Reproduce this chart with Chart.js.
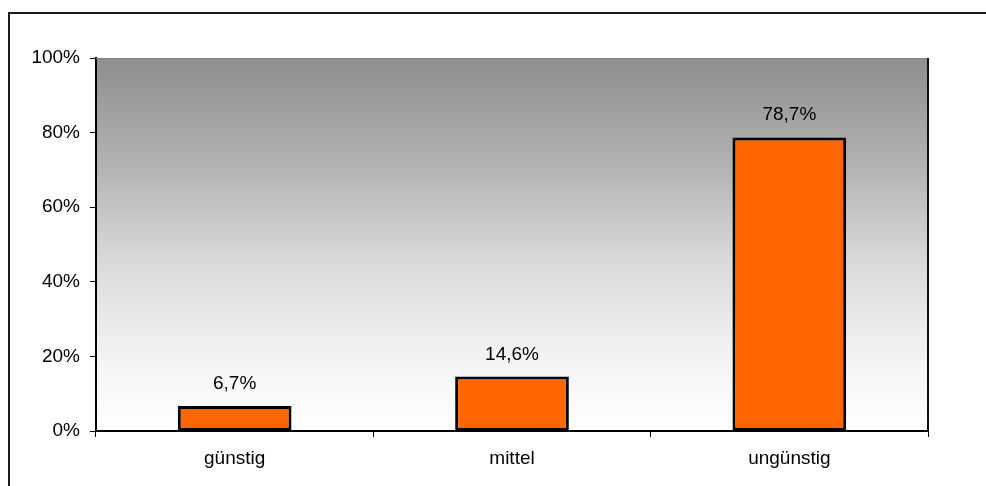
<!DOCTYPE html>
<html>
<head>
<meta charset="utf-8">
<script src="https://cdn.jsdelivr.net/npm/chart.js@4/dist/chart.umd.min.js"></script>
<style>
  html, body { margin: 0; padding: 0; background: #fff; }
  #wrap { width: 986px; height: 486px; position: relative; }
</style>
</head>
<body>
<div id="wrap"><canvas id="chart" width="986" height="486"></canvas></div>
<script>
const categories = ['günstig', 'mittel', 'ungünstig'];
const shares = [6.7, 14.6, 78.7];
const shareLabels = ['6,7%', '14,6%', '78,7%'];
const yTicks = [0, 20, 40, 60, 80, 100];

const FONT = '"Liberation Sans", Arial, sans-serif';

// grey-to-white fill behind the bars, plus the outer frame lines
const plotBackground = {
    id: 'plotBackground',
    beforeDraw(chart) {
        const { ctx, chartArea: a } = chart;
        const g = ctx.createLinearGradient(0, a.top, 0, a.bottom);
        g.addColorStop(0, '#8e8e8e');
        g.addColorStop(0.3, '#b4b4b4');
        g.addColorStop(0.55, '#dadada');
        g.addColorStop(0.8, '#f3f3f3');
        g.addColorStop(1, '#ffffff');
        ctx.save();
        ctx.fillStyle = g;
        ctx.fillRect(a.left, a.top, a.right - a.left, a.bottom - a.top);
        ctx.restore();
    },
    afterDraw(chart) {
        const { ctx, chartArea: a } = chart;
        ctx.save();
        // outer border (top and left only visible)
        ctx.strokeStyle = '#1a1a1a';
        ctx.lineWidth = 2;
        ctx.beginPath();
        ctx.moveTo(9, 486);
        ctx.lineTo(9, 13);
        ctx.lineTo(986, 13);
        ctx.stroke();
        // plot area top and right edges
        ctx.strokeStyle = '#808080';
        ctx.lineWidth = 1;
        ctx.beginPath();
        ctx.moveTo(a.left, a.top + 0.5);
        ctx.lineTo(a.right, a.top + 0.5);
        ctx.stroke();
        ctx.strokeStyle = '#111';
        ctx.lineWidth = 2;
        ctx.beginPath();
        ctx.moveTo(a.right, a.top);
        ctx.lineTo(a.right, a.bottom);
        ctx.stroke();
        ctx.restore();
    }
};

// value text above each bar
const valueLabels = {
    id: 'valueLabels',
    afterDatasetsDraw(chart) {
        const { ctx } = chart;
        const meta = chart.getDatasetMeta(0);
        ctx.save();
        ctx.font = '19px ' + FONT;
        ctx.fillStyle = '#000';
        ctx.textAlign = 'center';
        ctx.textBaseline = 'alphabetic';
        meta.data.forEach((bar, i) => {
            ctx.fillText(shareLabels[i], bar.x, bar.y - 17);
        });
        ctx.restore();
    }
};

new Chart(document.getElementById('chart'), {
    type: 'bar',
    data: {
        labels: categories,
        datasets: [{
            data: shares,
            backgroundColor: '#ff6600',
            borderColor: '#000',
            borderWidth: 3,
            borderSkipped: false,
            barPercentage: 0.41,
            categoryPercentage: 1
        }]
    },
    options: {
        responsive: false,
        animation: false,
        layout: { padding: { top: 58, right: 58, left: 0, bottom: 0 } },
        plugins: {
            legend: { display: false },
            tooltip: { enabled: false }
        },
        scales: {
            x: {
                afterFit(scale) { scale.height = 55; },
                grid: {
                    offset: true,
                    drawOnChartArea: false,
                    tickLength: 6,
                    color: '#000',
                    lineWidth: 1
                },
                border: { color: '#000', width: 2 },
                ticks: {
                    color: '#000',
                    font: { family: FONT, size: 19 },
                    padding: 10
                }
            },
            y: {
                min: 0,
                max: 100,
                afterFit(scale) { scale.width = 96; },
                afterBuildTicks(scale) {
                    scale.ticks = yTicks.map(v => ({ value: v }));
                },
                grid: {
                    drawOnChartArea: false,
                    tickLength: 6,
                    color: '#000',
                    lineWidth: 1
                },
                border: { color: '#000', width: 2 },
                ticks: {
                    color: '#000',
                    font: { family: FONT, size: 19 },
                    padding: 10,
                    callback: v => v + '%'
                }
            }
        }
    },
    plugins: [plotBackground, valueLabels]
});
</script>
</body>
</html>
